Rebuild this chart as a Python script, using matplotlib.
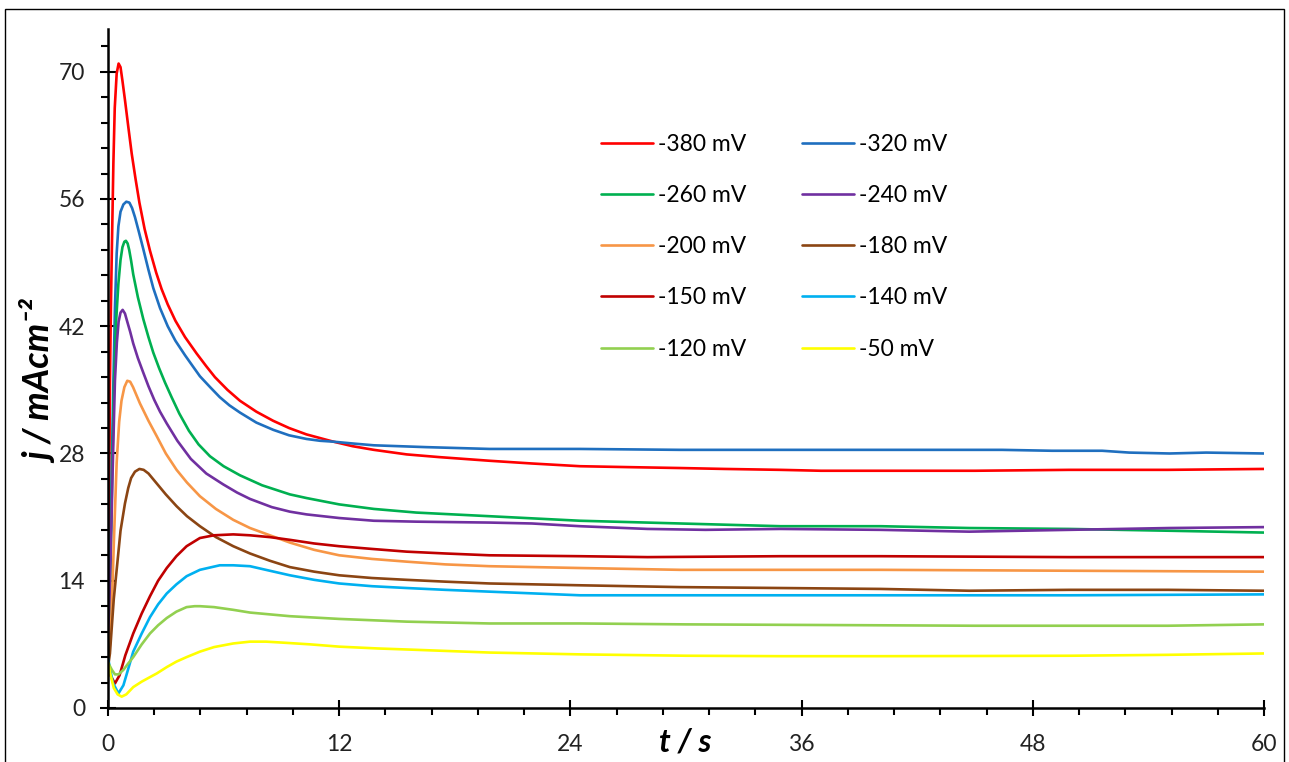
import matplotlib
matplotlib.use("Agg")
import matplotlib.pyplot as plt
import numpy as np
from matplotlib.patches import Rectangle
from matplotlib.ticker import MultipleLocator, FixedLocator

plt.rcParams['font.family'] = ['Lato', 'DejaVu Sans']

# ---- data ----
labels = ['-380 mV', '-320 mV', '-260 mV', '-240 mV', '-200 mV',
          '-180 mV', '-150 mV', '-140 mV', '-120 mV', '-50 mV']
colors = ['#FF0000', '#1F6FBF', '#00B050', '#7030A0', '#F79646',
          '#8B4513', '#C00000', '#00B0F0', '#92D050', '#FFFF00']

t_380 = [0, 0.05, 0.1, 0.15, 0.2, 0.28, 0.35, 0.45, 0.55, 0.65, 0.75, 0.88, 1.05, 1.23, 1.43, 1.63, 1.9, 2.18, 2.5, 2.78, 3.1, 3.5, 4.0, 4.6, 5.1, 5.55, 6.2, 6.85, 7.7, 8.57, 9.4, 10.3, 11.0, 11.7, 12.7, 13.8, 15.5, 17.2, 19.8, 22, 24.5, 27, 29.7, 32, 34.9, 37, 40.1, 45, 49.9, 55, 60]
j_380 = [5, 20, 35.8, 44, 50.4, 60, 66, 69.8, 70.9, 70.5, 69, 66.9, 64.0, 61.0, 58.2, 55.6, 52.7, 50.3, 47.9, 46.1, 44.4, 42.6, 40.8, 39.0, 37.6, 36.4, 35.0, 33.8, 32.6, 31.6, 30.8, 30.1, 29.7, 29.3, 28.8, 28.4, 27.9, 27.6, 27.2, 26.9, 26.6, 26.5, 26.4, 26.3, 26.2, 26.1, 26.1, 26.1, 26.2, 26.2, 26.3]

t_320 = [0, 0.1, 0.2, 0.28, 0.36, 0.45, 0.54, 0.65, 0.8, 0.95, 1.11, 1.25, 1.4, 1.6, 1.83, 2.1, 2.35, 2.7, 3.1, 3.5, 4.0, 4.4, 4.77, 5.3, 5.8, 6.3, 6.85, 7.7, 8.58, 9.4, 10.3, 11.0, 11.7, 12.7, 13.8, 16.5, 19.8, 24.5, 29.7, 35, 40, 43, 46.4, 49, 51.6, 53, 55.1, 57, 60]
j_320 = [5, 14, 27, 35.8, 44, 50, 53.0, 54.6, 55.4, 55.7, 55.6, 55.0, 54.0, 52.4, 50.5, 48.2, 46.2, 44.0, 42.0, 40.4, 38.8, 37.6, 36.5, 35.3, 34.2, 33.3, 32.5, 31.4, 30.6, 30.0, 29.6, 29.4, 29.3, 29.1, 28.9, 28.7, 28.5, 28.5, 28.4, 28.4, 28.4, 28.4, 28.4, 28.3, 28.3, 28.1, 28.0, 28.1, 28.0]

t_260 = [0, 0.1, 0.2, 0.31, 0.42, 0.54, 0.65, 0.75, 0.85, 0.93, 1.02, 1.1, 1.2, 1.31, 1.55, 1.83, 2.1, 2.35, 2.65, 2.96, 3.3, 3.7, 4.2, 4.7, 5.29, 6.0, 6.85, 8.0, 9.44, 10.3, 12, 13.8, 16, 19.8, 24.5, 29.7, 34.9, 40.1, 44.7, 49.9, 55.1, 60]
j_260 = [5, 12, 24, 35.7, 42.5, 46.7, 49.3, 50.7, 51.3, 51.4, 51.1, 50.4, 49.2, 47.7, 45.2, 42.8, 40.8, 39.1, 37.4, 35.8, 34.2, 32.4, 30.5, 29.0, 27.7, 26.6, 25.6, 24.5, 23.5, 23.1, 22.4, 21.9, 21.5, 21.1, 20.6, 20.3, 20.0, 20.0, 19.8, 19.7, 19.5, 19.3]

t_240 = [0, 0.12, 0.24, 0.36, 0.46, 0.55, 0.65, 0.76, 0.88, 1.0, 1.15, 1.31, 1.55, 1.83, 2.1, 2.4, 2.7, 3.05, 3.6, 4.3, 5.1, 5.98, 6.7, 7.37, 8.5, 9.44, 10.3, 12, 13.8, 16, 19.8, 22, 24.5, 28, 31, 34.9, 40.1, 44.7, 49.9, 55.1, 60]
j_240 = [5, 15, 26, 36, 40.2, 42.5, 43.5, 43.8, 43.4, 42.5, 41.4, 40.1, 38.5, 36.9, 35.4, 33.9, 32.6, 31.3, 29.4, 27.4, 25.8, 24.6, 23.7, 23.0, 22.1, 21.6, 21.3, 20.9, 20.6, 20.5, 20.4, 20.3, 20.0, 19.7, 19.6, 19.7, 19.6, 19.4, 19.6, 19.8, 19.9]

t_200 = [0, 0.1, 0.19, 0.3, 0.45, 0.58, 0.7, 0.85, 1.0, 1.15, 1.3, 1.66, 2.1, 2.53, 3.0, 3.56, 4.1, 4.77, 5.6, 6.5, 7.37, 8.4, 9.44, 10.7, 12, 13.7, 15.5, 17.5, 19.8, 24.5, 29.7, 35, 40.1, 50, 60]
j_200 = [5, 7, 10.4, 18, 27, 31.5, 33.8, 35.3, 36.0, 35.9, 35.3, 33.5, 31.6, 29.9, 28.0, 26.2, 24.8, 23.3, 21.9, 20.7, 19.8, 19.0, 18.2, 17.4, 16.8, 16.4, 16.1, 15.8, 15.6, 15.4, 15.2, 15.2, 15.2, 15.1, 15.0]

t_180 = [0, 0.1, 0.2, 0.3, 0.45, 0.65, 0.88, 1.05, 1.2, 1.4, 1.63, 1.85, 2.1, 2.53, 3.0, 3.56, 4.1, 4.77, 5.6, 6.5, 7.37, 8.4, 9.44, 10.7, 12, 13.7, 15.5, 17.5, 19.8, 24.5, 29.7, 34.9, 40.1, 44.7, 49.9, 55, 60]
j_180 = [4.5, 6, 9, 12, 15.2, 19.5, 22.5, 24.2, 25.3, 26.0, 26.3, 26.2, 25.8, 24.7, 23.5, 22.2, 21.1, 20.0, 18.8, 17.8, 17.0, 16.2, 15.5, 15.0, 14.6, 14.3, 14.1, 13.9, 13.7, 13.5, 13.3, 13.2, 13.1, 12.9, 13.0, 13.0, 12.9]

t_150 = [0, 0.15, 0.36, 0.6, 0.9, 1.31, 1.75, 2.18, 2.6, 3.05, 3.55, 4.08, 4.77, 5.5, 6.5, 7.37, 8.4, 9.44, 10.7, 12, 13.7, 15.5, 17.5, 19.8, 24.5, 28, 34.9, 40.1, 49.9, 60]
j_150 = [5, 3.5, 2.7, 3.6, 5.8, 8.2, 10.4, 12.3, 14.0, 15.4, 16.7, 17.8, 18.7, 19.0, 19.1, 19.0, 18.8, 18.5, 18.1, 17.8, 17.5, 17.2, 17.0, 16.8, 16.7, 16.6, 16.7, 16.7, 16.6, 16.6]

t_140 = [0, 0.25, 0.54, 0.8, 1.05, 1.31, 1.75, 2.18, 2.6, 3.05, 3.55, 4.08, 4.77, 5.8, 6.5, 7.37, 8.4, 9.44, 10.7, 12, 13.7, 15.5, 17.5, 19.8, 24.5, 30, 40, 50, 60]
j_140 = [5.5, 2.8, 1.6, 2.5, 4.3, 6.2, 8.2, 10.0, 11.4, 12.6, 13.6, 14.5, 15.2, 15.7, 15.7, 15.6, 15.1, 14.6, 14.1, 13.7, 13.4, 13.2, 13.0, 12.8, 12.4, 12.4, 12.4, 12.4, 12.5]

t_120 = [0, 0.2, 0.36, 0.55, 0.8, 1.05, 1.31, 1.75, 2.18, 2.6, 3.05, 3.55, 4.08, 4.5, 4.77, 5.5, 6.5, 7.37, 8.4, 9.44, 12, 15.5, 19.8, 24.5, 30, 40, 45, 55, 60]
j_120 = [5, 4.2, 3.7, 3.7, 4.2, 4.9, 5.6, 7.0, 8.2, 9.1, 9.9, 10.6, 11.1, 11.2, 11.2, 11.1, 10.8, 10.5, 10.3, 10.1, 9.8, 9.5, 9.3, 9.3, 9.2, 9.1, 9.05, 9.05, 9.2]

t_50 = [0, 0.15, 0.3, 0.5, 0.71, 0.95, 1.31, 1.75, 2.18, 2.53, 3.05, 3.55, 4.08, 4.77, 5.5, 6.5, 7.37, 8.2, 9, 10.5, 12, 14, 16, 19.8, 24.5, 30, 35, 40, 45, 50, 55, 60]
j_50 = [5.0, 3.5, 2.2, 1.5, 1.25, 1.5, 2.3, 2.9, 3.4, 3.8, 4.5, 5.1, 5.6, 6.2, 6.7, 7.1, 7.3, 7.3, 7.2, 7.0, 6.75, 6.55, 6.4, 6.1, 5.9, 5.75, 5.7, 5.7, 5.72, 5.75, 5.85, 6.0]

series_t = [t_380, t_320, t_260, t_240, t_200, t_180, t_150, t_140, t_120, t_50]
series_j = [j_380, j_320, j_260, j_240, j_200, j_180, j_150, j_140, j_120, j_50]

y_ticks = [0, 14, 28, 42, 56, 70]
x_ticks = [0, 12, 24, 36, 48, 60]

# ---- figure ----
W, H = 1289, 762
fig = plt.figure(figsize=(W / 100, H / 100), dpi=100)
fig.patch.set_facecolor('white')
ax = fig.add_axes([108 / W, 1 - 708 / H, (1264 - 108) / W, (708 - 29) / H])

handles = []
for tt, jj, c, lab in zip(series_t, series_j, colors, labels):
    h, = ax.plot(tt, jj, color=c, lw=1.9, label=lab, solid_capstyle='round',
                 solid_joinstyle='round')
    handles.append(h)

ax.set_xlim(0, 60)
ax.set_ylim(0, 74.7)
ax.set_xticks(x_ticks)
ax.set_yticks(y_ticks)
ax.xaxis.set_minor_locator(MultipleLocator(2.4))
ax.yaxis.set_minor_locator(FixedLocator(np.arange(0, 74, 2.8)))
for s in ['top', 'right']:
    ax.spines[s].set_visible(False)
for s in ['left', 'bottom']:
    ax.spines[s].set_linewidth(1.8)
ax.tick_params(axis='both', which='major', direction='inout', length=11, width=1.5,
               labelsize=16.5, color='black', labelcolor='#222222')
ax.tick_params(axis='both', which='minor', direction='out', length=5, width=1.5)
ax.tick_params(axis='y', which='major', pad=11)
ax.tick_params(axis='x', which='major', pad=13)

# legend: two columns filled row by row
order = [0, 2, 4, 6, 8, 1, 3, 5, 7, 9]
leg = ax.legend([handles[i] for i in order], [labels[i] for i in order],
                ncol=2, frameon=False, fontsize=16.5, loc='upper left',
                bbox_to_anchor=(580 / W, 1 - 113 / H), bbox_transform=fig.transFigure,
                handlelength=2.27, handletextpad=0.22, columnspacing=2.45,
                labelspacing=1.32, borderpad=0.4)
for line in leg.get_lines():
    line.set_linewidth(1.9)

fig.text(40 / W, 1 - 382 / H, 'j / mAcm⁻²', rotation=90, ha='center', va='center',
         fontsize=26, fontweight='bold', fontstyle='italic')
fig.text(685 / W, 1 - 742 / H, 't / s', ha='center', va='center',
         fontsize=23, fontweight='bold', fontstyle='italic')

fig.patches.append(Rectangle((5 / W, -0.02), (1284 - 5) / W, 1.02 - 9 / H,
                             transform=fig.transFigure, fill=False,
                             edgecolor='black', linewidth=1.0))

fig.savefig('out.png', dpi=100)
